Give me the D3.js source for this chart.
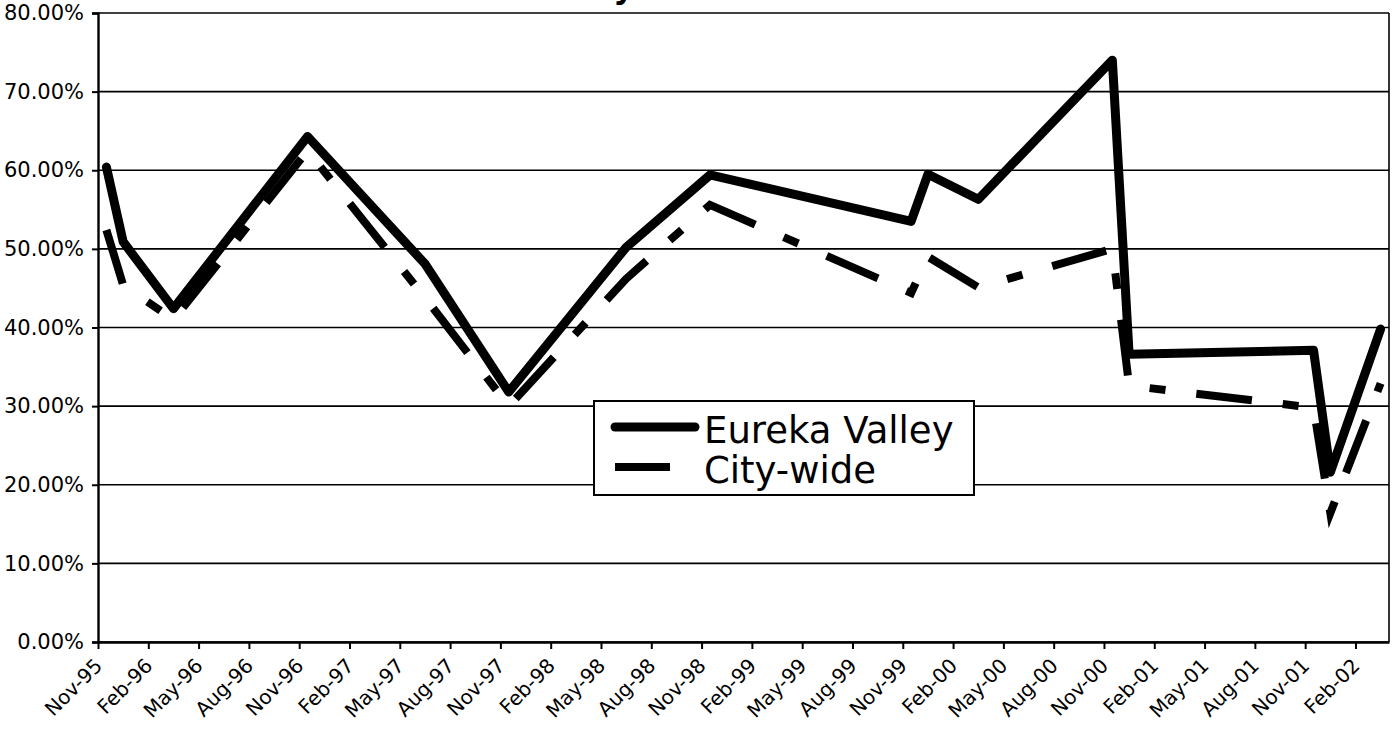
<!DOCTYPE html>
<html>
<head>
<meta charset="utf-8">
<script src="https://cdnjs.cloudflare.com/ajax/libs/d3/7.8.5/d3.min.js"></script>
<style>
  body { margin: 0; background: #fff; }
  text { font-family: "DejaVu Sans", sans-serif; fill: #000; }
</style>
</head>
<body>
<div id="chart"></div>
<script>
// election months (first month of axis is Nov-95)
var electionMonths = ["1995-11", "1995-12", "1996-03", "1996-11", "1997-06", "1997-11",
  "1998-06", "1998-11", "1999-11", "1999-12", "2000-03", "2000-11", "2000-12",
  "2001-11", "2001-12", "2002-03"];

// turnout in percent
var eurekaValley = [60.4, 50.9, 42.4, 64.3, 48.1, 31.8, 50.2, 59.4, 53.5, 59.5, 56.3,
  74.0, 36.6, 37.1, 21.6, 39.8];
var cityWide = [52.4, 45.4, 41.0, 62.5, 43.8, 30.0, 46.2, 55.6, 44.4, 49.0, 45.1,
  50.0, 32.6, 29.8, 16.4, 32.9];

var xTickLabels = ["Nov-95", "Feb-96", "May-96", "Aug-96", "Nov-96", "Feb-97", "May-97",
  "Aug-97", "Nov-97", "Feb-98", "May-98", "Aug-98", "Nov-98", "Feb-99", "May-99",
  "Aug-99", "Nov-99", "Feb-00", "May-00", "Aug-00", "Nov-00", "Feb-01", "May-01",
  "Aug-01", "Nov-01", "Feb-02"];
var yTicks = [0, 10, 20, 30, 40, 50, 60, 70, 80];

var seriesNames = ["Eureka Valley", "City-wide"];

var svgWidth = 1397;
var svgHeight = 730;

var margin = { top: 13, right: 8, bottom: 88, left: 98 };
var width = svgWidth - margin.left - margin.right;
var height = svgHeight - margin.top - margin.bottom;

var svg = d3.select("#chart")
  .append("svg")
  .attr("width", svgWidth)
  .attr("height", svgHeight);

// title sits above the page, only the descender of its last letter shows
svg.append("text")
  .attr("x", 634)
  .attr("y", -2)
  .attr("text-anchor", "end")
  .style("font-weight", "bold")
  .style("font-size", "32px")
  .text("Eureka Valley");

var chartGroup = svg.append("g")
  .attr("transform", `translate(${margin.left}, ${margin.top})`);

// month index counted from Nov-95
function monthIndex(s) {
  var parts = s.split("-");
  return (+parts[0] - 1995) * 12 + (+parts[1] - 11);
}

var totalMonths = monthIndex("2002-03") + 1;

var xLinearScale = d3.scaleLinear()
  .domain([0, totalMonths])
  .range([0, width]);

var yLinearScale = d3.scaleLinear()
  .domain([0, 80])
  .range([height, 0]);

// gridlines
chartGroup.selectAll(".grid")
  .data(yTicks)
  .enter()
  .append("line")
  .attr("class", "grid")
  .attr("x1", 0)
  .attr("x2", width)
  .attr("y1", d => yLinearScale(d))
  .attr("y2", d => yLinearScale(d))
  .attr("stroke", "#000")
  .attr("stroke-width", 1.6);

// right border
chartGroup.append("line")
  .attr("x1", width).attr("x2", width)
  .attr("y1", 0).attr("y2", height)
  .attr("stroke", "#000")
  .attr("stroke-width", 1.6);

// y axis
var leftAxis = d3.axisLeft(yLinearScale)
  .tickValues(yTicks)
  .tickSize(6)
  .tickPadding(8)
  .tickFormat(d => d3.format(".2f")(d) + "%");

var yAxis = chartGroup.append("g").call(leftAxis);
yAxis.select(".domain").attr("stroke-width", 2.4);
yAxis.selectAll(".tick line").attr("stroke-width", 2);
yAxis.selectAll("text")
  .style("font-family", "'DejaVu Sans', sans-serif")
  .style("font-size", "21px");

// x axis, ticks every 3 months
var bottomAxis = d3.axisBottom(xLinearScale)
  .tickValues(d3.range(0, xTickLabels.length).map(i => i * 3))
  .tickSize(7)
  .tickSizeOuter(0)
  .tickFormat((d, i) => xTickLabels[i]);

var xAxis = chartGroup.append("g")
  .attr("transform", `translate(0, ${height})`)
  .call(bottomAxis);
xAxis.select(".domain").attr("stroke-width", 2.4);
xAxis.selectAll(".tick line").attr("stroke-width", 2);
xAxis.selectAll("text")
  .style("font-family", "'DejaVu Sans', sans-serif")
  .style("font-size", "20px")
  .attr("text-anchor", "end")
  .attr("dy", null)
  .attr("y", 0)
  .attr("transform", "translate(5, 25) rotate(-45)");

// lines
var line = function(values) {
  return d3.line()
    .x((d, i) => xLinearScale(monthIndex(electionMonths[i]) + 0.5))
    .y(d => yLinearScale(d))(values);
};

chartGroup.append("path")
  .attr("d", line(cityWide))
  .attr("fill", "none")
  .attr("stroke", "#000")
  .attr("stroke-width", 8)
  .attr("stroke-dasharray", "56,31,16,31")
  .attr("stroke-linejoin", "miter");

chartGroup.append("path")
  .attr("d", line(eurekaValley))
  .attr("fill", "none")
  .attr("stroke", "#000")
  .attr("stroke-width", 9)
  .attr("stroke-linejoin", "round")
  .attr("stroke-linecap", "round");

// legend
var legend = svg.append("g")
  .attr("transform", "translate(594, 401)");

legend.append("rect")
  .attr("width", 380)
  .attr("height", 94)
  .attr("fill", "#fff")
  .attr("stroke", "#000")
  .attr("stroke-width", 2);

legend.append("line")
  .attr("x1", 21).attr("x2", 101)
  .attr("y1", 26).attr("y2", 26)
  .attr("stroke", "#000")
  .attr("stroke-width", 9)
  .attr("stroke-linecap", "round");

legend.append("line")
  .attr("x1", 21).attr("x2", 76)
  .attr("y1", 66).attr("y2", 66)
  .attr("stroke", "#000")
  .attr("stroke-width", 8);

legend.selectAll(".legend-label")
  .data(seriesNames)
  .enter()
  .append("text")
  .attr("class", "legend-label")
  .attr("x", 110)
  .attr("y", (d, i) => 42 + i * 40)
  .style("font-size", "37px")
  .text(d => d);
</script>
</body>
</html>
